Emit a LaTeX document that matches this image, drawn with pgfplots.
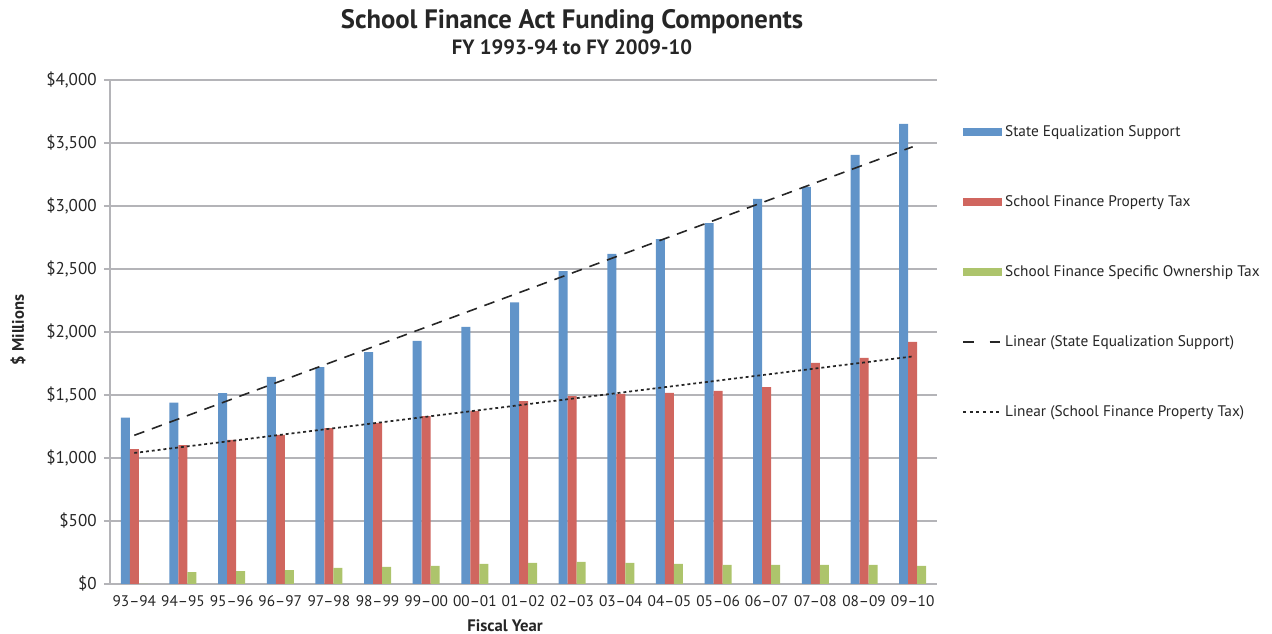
\documentclass[border=0pt]{standalone}
\usepackage{fontspec}
\setmainfont{PT Sans}
\usepackage{pgfplots}
\pgfplotsset{compat=1.18}

\definecolor{sesblue}{HTML}{6194C9}
\definecolor{sesred}{HTML}{D0665F}
\definecolor{sesgreen}{HTML}{ADC46C}
\definecolor{gridgray}{HTML}{B4B4B8}
\definecolor{txt}{HTML}{262626}

% values in $ millions, category index 0 = 93-94 ... 16 = 09-10
\pgfplotstableread{
x  state  prop  own
0  1320   1071  0
1  1440   1103  95
2  1515   1143  103
3  1643   1183  111
4  1722   1238  127
5  1841   1278  135
6  1929   1333  143
7  2040   1373  159
8  2235   1452  167
9  2484   1492  175
10 2619   1508  167
11 2738   1516  159
12 2865   1532  151
13 3056   1563  151
14 3151   1754  151
15 3405   1794  151
16 3651   1921  143
}\funding

\begin{document}
\begin{tikzpicture}
\useasboundingbox (-82.5pt,-37.5pt) rectangle (871.5pt,438pt);
\begin{axis}[
    scale only axis,
    width=620.25pt, height=378pt,
    at={(0,0)}, anchor=south west,
    xmin=-0.5, xmax=16.5,
    ymin=0, ymax=4000,
    axis x line*=bottom, axis y line*=left,
    axis line style={gridgray, line width=1.3pt},
    ytick={0,500,...,4000},
    yticklabels={{\$0},{\$500},{\$1,000},{\$1,500},{\$2,000},{\$2,500},{\$3,000},{\$3,500},{\$4,000}},
    xtick={0,...,16},
    xticklabels={93--94,94--95,95--96,96--97,97--98,98--99,99--00,00--01,01--02,02--03,03--04,04--05,05--06,06--07,07--08,08--09,09--10},
    x tick style={draw=none},
    y tick style={gridgray, line width=1.1pt},
    tick align=outside, major tick length=4.5pt,
    ymajorgrids,
    grid style={gridgray, line width=1.1pt},
    tick label style={text=txt},
    xticklabel style={font=\fontsize{11.5}{13}\selectfont, yshift=-1pt},
    yticklabel style={font=\fontsize{12.8}{14}\selectfont, xshift=-2pt},
    bar width=6.75pt,
    legend cell align=left,
    legend style={at={(1.03,0.915)}, anchor=north west, draw=none,
        font=\fontsize{11.5}{13}\selectfont, text=txt,
        row sep=38.8pt, inner sep=0pt,
        /tikz/every even column/.append style={column sep=2pt}},
    clip=false,
]
\addplot[ybar, fill=sesblue, draw=none, bar shift=-6.75pt,
    legend image code/.code={\fill[sesblue] (0pt,-3pt) rectangle (29pt,3pt);}]
    table[x=x, y=state] {\funding};
\addlegendentry{State Equalization Support}
\addplot[ybar, fill=sesred, draw=none, bar shift=0pt,
    legend image code/.code={\fill[sesred] (0pt,-3pt) rectangle (29pt,3pt);}]
    table[x=x, y=prop] {\funding};
\addlegendentry{School Finance Property Tax}
\addplot[ybar, fill=sesgreen, draw=none, bar shift=6.75pt,
    legend image code/.code={\fill[sesgreen] (0pt,-3pt) rectangle (29pt,3pt);}]
    table[x=x, y=own] {\funding};
\addlegendentry{School Finance Specific Ownership Tax}
\addplot[sharp plot, black!85, line width=1.2pt, dash pattern=on 8pt off 6pt,
    legend image code/.code={\draw[black!85, line width=1.4pt] (0pt,0pt) -- (8pt,0pt) (20pt,0pt) -- (28pt,0pt);}]
    coordinates {(0,1180) (16,3470)};
\addlegendentry{Linear (State Equalization Support)}
\addplot[sharp plot, black!85, line width=1.3pt, dash pattern=on 2.2pt off 2.2pt,
    legend image code/.code={\draw[black!85, line width=1.2pt, dash pattern=on 2.2pt off 2.8pt] (0pt,0pt) -- (29pt,0pt);}]
    coordinates {(0,1040) (16,1806)};
\addlegendentry{Linear (School Finance Property Tax)}
\end{axis}
\node[font=\bfseries\fontsize{20}{23}\selectfont, text=txt] at (346.5pt,421.5pt) {School Finance Act Funding Components};
\node[font=\bfseries\fontsize{15.5}{18}\selectfont, text=txt] at (346.5pt,402.5pt) {FY 1993-94 to FY 2009-10};
\node[font=\bfseries\fontsize{12.5}{14}\selectfont, text=txt, rotate=90] at (-69pt,190.5pt) {\$ Millions};
\node[font=\bfseries\fontsize{12.5}{14}\selectfont, text=txt] at (296.25pt,-31.5pt) {Fiscal Year};
\end{tikzpicture}
\end{document}
